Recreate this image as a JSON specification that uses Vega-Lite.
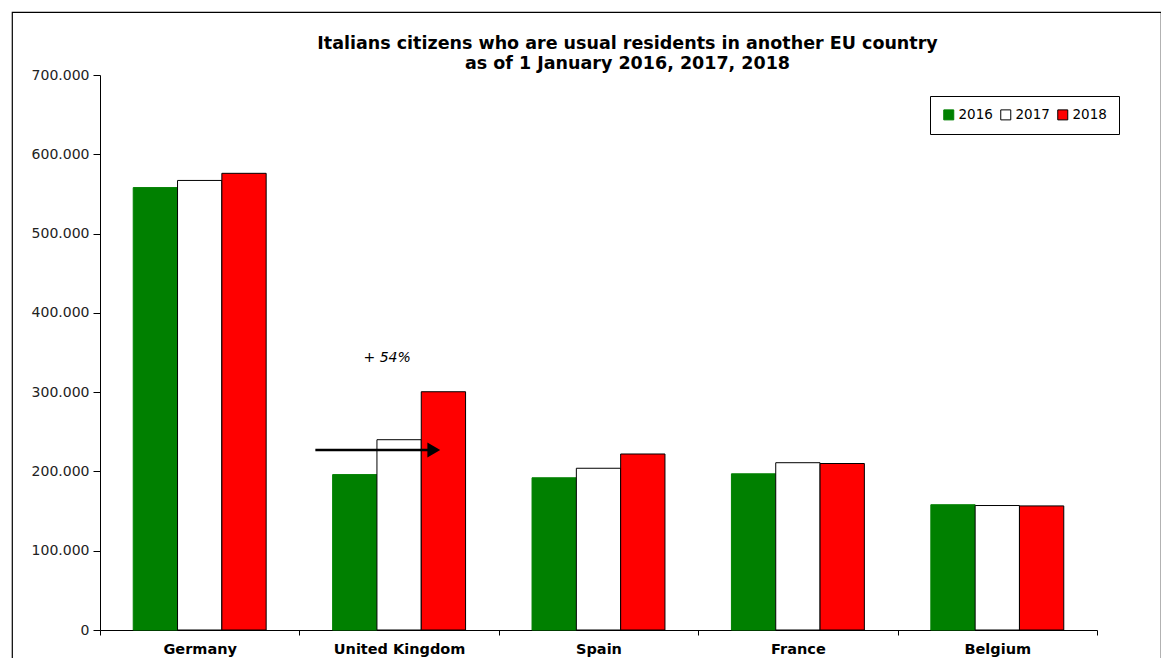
{
  "$schema": "https://vega.github.io/schema/vega-lite/v6.json",
  "width": 1149,
  "height": 660,
  "autosize": {"type": "none"},
  "padding": {"left": 12, "top": 12, "right": 0, "bottom": 0},
  "background": "white",
  "config": {
    "view": {"stroke": "black", "strokeWidth": 1.2},
    "font": "DejaVu Sans",
    "axis": {"grid": false}
  },
  "title": {
    "text": ["Italians citizens who are usual residents in another EU country", "as of 1 January 2016, 2017, 2018"],
    "fontSize": 17.5,
    "fontWeight": "bold",
    "font": "DejaVu Sans",
    "color": "black",
    "anchor": "middle",
    "frame": "group",
    "lineHeight": 20,
    "dx": 41,
    "dy": 64
  },
  "datasets": {
    "pop": [
      {"country": "Germany", "year": "2016", "value": 558000},
      {"country": "Germany", "year": "2017", "value": 567000},
      {"country": "Germany", "year": "2018", "value": 576000},
      {"country": "United Kingdom", "year": "2016", "value": 196000},
      {"country": "United Kingdom", "year": "2017", "value": 240000},
      {"country": "United Kingdom", "year": "2018", "value": 300500},
      {"country": "Spain", "year": "2016", "value": 192000},
      {"country": "Spain", "year": "2017", "value": 204000},
      {"country": "Spain", "year": "2018", "value": 222000},
      {"country": "France", "year": "2016", "value": 197000},
      {"country": "France", "year": "2017", "value": 211000},
      {"country": "France", "year": "2018", "value": 210000},
      {"country": "Belgium", "year": "2016", "value": 158000},
      {"country": "Belgium", "year": "2017", "value": 157000},
      {"country": "Belgium", "year": "2018", "value": 156500}
    ],
    "note": [
      {"country": "United Kingdom", "label": "+ 54%"}
    ]
  },
  "layer": [
    {
      "data": {"name": "pop"},
      "mark": {"type": "bar", "strokeWidth": 1},
      "encoding": {
        "x": {
          "field": "country",
          "type": "nominal",
          "sort": ["Germany", "United Kingdom", "Spain", "France", "Belgium"],
          "scale": {"range": [88, 1085], "paddingInner": 0, "paddingOuter": 0},
          "axis": {
            "title": null,
            "offset": -42,
            "labelAngle": 0,
            "labelFontSize": 14.5,
            "labelFontWeight": "bold",
            "labelColor": "black",
            "labelPadding": 7,
            "tickBand": "extent",
            "tickSize": 5,
            "tickColor": "black",
            "domainColor": "black"
          }
        },
        "xOffset": {
          "field": "year",
          "type": "nominal",
          "sort": ["2016", "2017", "2018"],
          "scale": {"paddingInner": 0, "paddingOuter": 0.75}
        },
        "y": {
          "field": "value",
          "type": "quantitative",
          "scale": {"domain": [0, 700000], "range": [618, 63]},
          "axis": {
            "title": null,
            "offset": -88,
            "values": [0, 100000, 200000, 300000, 400000, 500000, 600000, 700000],
            "labelExpr": "datum.value == 0 ? '0' : replace(format(datum.value, ','), ',', '.')",
            "labelFontSize": 14,
            "labelColor": "#222222",
            "labelPadding": 4,
            "tickSize": 7,
            "tickColor": "black",
            "domainColor": "black"
          }
        },
        "fill": {
          "field": "year",
          "type": "nominal",
          "scale": {"domain": ["2016", "2017", "2018"], "range": ["#008000", "#ffffff", "#ff0000"]},
          "legend": {
            "title": null,
            "orient": "none",
            "legendX": 918,
            "legendY": 84,
            "direction": "horizontal",
            "strokeColor": "black",
            "fillColor": "white",
            "padding": 12,
            "symbolType": "square",
            "symbolSize": 100,
            "symbolStrokeColor": "black",
            "symbolStrokeWidth": 1,
            "labelFontSize": 13.5,
            "labelColor": "black",
            "labelOffset": 3,
            "columnPadding": 5
          }
        },
        "stroke": {
          "field": "year",
          "type": "nominal",
          "scale": {"domain": ["2016", "2017", "2018"], "range": ["#008000", "#000000", "#000000"]},
          "legend": null
        }
      }
    },
    {
      "data": {"name": "note"},
      "mark": {"type": "rule", "strokeWidth": 2.5, "color": "black"},
      "encoding": {
        "x": {"field": "country", "type": "nominal", "sort": ["Germany", "United Kingdom", "Spain", "France", "Belgium"], "bandPosition": 0.08},
        "x2": {"field": "country", "bandPosition": 0.65},
        "y": {"datum": 227000, "type": "quantitative"}
      }
    },
    {
      "data": {"name": "note"},
      "mark": {"type": "point", "shape": "triangle-right", "filled": true, "color": "black", "size": 220, "opacity": 1},
      "encoding": {
        "x": {"field": "country", "type": "nominal", "sort": ["Germany", "United Kingdom", "Spain", "France", "Belgium"], "bandPosition": 0.674},
        "y": {"datum": 227000, "type": "quantitative"}
      }
    },
    {
      "data": {"name": "note"},
      "mark": {"type": "text", "fontStyle": "italic", "fontSize": 14, "color": "black"},
      "encoding": {
        "x": {"field": "country", "type": "nominal", "sort": ["Germany", "United Kingdom", "Spain", "France", "Belgium"], "bandPosition": 0.44},
        "y": {"datum": 343000, "type": "quantitative"},
        "text": {"field": "label"}
      }
    }
  ]
}
